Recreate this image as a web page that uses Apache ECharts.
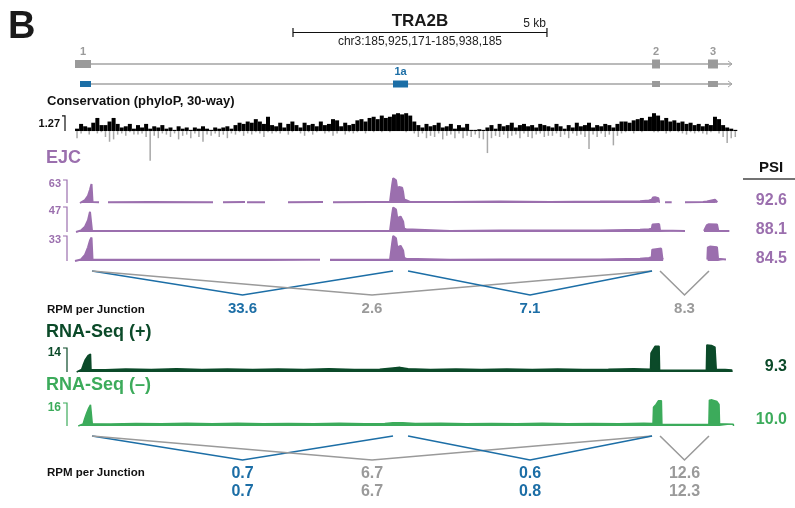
<!DOCTYPE html>
<html><head><meta charset="utf-8">
<script src="https://cdn.jsdelivr.net/npm/echarts@6/dist/echarts.min.js"></script>
<style>html,body{margin:0;padding:0;background:#fff}#c{width:795px;height:508px}</style>
</head><body><div id="c"></div>
<script>
// ---------------- DATA ----------------
const regionStart = 0, regionEnd = 13014;           // chr3:185,925,171-185,938,185 (bp offsets)
const regionLabel = 'chr3:185,925,171-185,938,185';
const geneName = 'TRA2B';
const scaleBarStart = 4292, scaleBarLength = 5000, scaleBarLabel = '5 kb';

const transcripts = [[0, 12936], [98, 12936]];
const gene1Exons = [[0, 315], [11361, 11518], [12463, 12659]];
const gene1Labels = ['1', '2', '3'];
const gene1aExons = [[98, 315], [6261, 6557], [11361, 11518], [12463, 12659]];
const gene1aLabels = ['', '1a', '', ''];

const consBin = 80;
const consScale = 1.27;
const consPos = [
 0.2,0.6,0.4,0.3,0.7,1.1,0.5, 0.5,0.8,1.1,0.6, 0.3,0.4,0.6,0.2, 0.5,0.3,0.6,0.2,0.4,0.3,0.5,
 0.2,0.3,0.1,0.4,0.2,0.3,0.1,0.3,0.2,0.4,0.2,0.1,0.3,0.2,0.3,0.4,0.2,
 0.5,0.7,0.6,0.8,0.7,1.0,0.8,0.6,1.2,0.5,
 0.4,0.7,0.3,0.6,0.8,0.5,0.3,0.7,0.5,0.6,0.4,0.8,0.5,0.6, 1.0,0.9, 0.4,0.7,0.5,0.6,
 0.9,1.0,0.8,1.1,1.2,1.0,1.3,1.1,1.2,1.4, 1.5,1.4,1.5,1.3, 0.8,
 0.5,0.3,0.6,0.4,0.5,0.7,0.3,0.4,0.6,0.2,0.5,0.3,0.6, 0.1,0.1,0.15,0.1,0.3,0.5,0.2,
 0.6,0.4,0.5,0.7,0.3,0.5,0.6,0.4,0.5,0.3,0.6,0.5,0.4,
 0.3,0.6,0.4,0.2,0.5,0.3,0.7,0.4,0.5,0.7,0.3,0.5,0.4,0.6,0.5,0.3,0.6,0.8,
 0.8,0.7,0.9,1.0,1.1,0.9,1.2,1.5, 1.3,0.9,1.1,0.8,0.9,0.7,0.8, 0.6,0.7,0.5,0.6, 0.4,0.6,0.5, 1.2,1.0, 0.5,0.3,0.2,0.1
];
const consNeg = [
 -0.6,-0.2,0,-0.3,0,-0.2,-0.1, -0.5,-0.9,-0.7,-0.3, -0.2,-0.4,-0.1,-0.3, -0.3,-0.2,-0.5,-2.5,-0.4,-0.6,-0.2,
 -0.3,-0.5,-0.2,-0.7,-0.4,-0.3,-0.6,-0.2,-0.5,-0.9,-0.3,-0.4,-0.2,-0.5,-0.3,-0.6,-0.2,
 -0.3,-0.1,-0.4,-0.2,-0.3,-0.1,-0.2,-0.5,-0.1,-0.2,
 -0.1,-0.2,0,-0.3,-0.1,0,-0.2,-0.4,-0.1,-0.3,-0.1,0,-0.2,-0.1, -0.4,-0.2, 0,-0.3,-0.1,-0.2,
 -0.1,0,-0.2,0,-0.1,0,-0.1,0,-0.1,0, 0,0,-0.1,0, -0.2,
 -0.5,-0.2,-0.6,-0.4,-0.5,-0.2,-0.7,-0.4,-0.3,-0.6,-0.2,-0.6,-0.4, -0.5,-0.3,-0.6,-0.7,-1.85,-0.6,-0.4,
 -0.5,-0.3,-0.6,-0.4,-0.3,-0.6,-0.2,-0.5,-0.6,-0.3,-0.2,-0.5,-0.4,
 -0.4,-0.2,-0.5,-0.3,-0.6,-0.2,-0.4,-0.3,-0.5,-1.5,-0.3,-0.5,-0.2,-0.5,-0.3,-1.2,-0.4,-0.2,
 -0.1,0,-0.2,0,-0.1,0,0,-0.1, -0.1,0,-0.2,-0.1,0,-0.1,-0.2, -0.3,-0.1,-0.2,-0.1, -0.2,-0.3,-0.1, 0,-0.2, -0.5,-1.0,-0.6,-0.5
];

const ejcScales = [63, 47, 33];
const ejc1Profile = [
 [98,0],[118,2],[197,8],[256,20],[295,36],[325,52],[335,52],[345,3],[473,2],[560,null],[650,2],[1477,3],[2717,2],[2815,null],
 [2914,2],[3347,3],[3367,null],[3387,2],[3741,2],[3960,null],[4194,2],[4883,3],[4980,null],[5080,2],[5809,3],[6202,3],
 [6235,4],[6245,50],[6265,68],[6290,70],[6320,62],[6345,38],[6365,36],[6380,44],[6410,44],[6440,42],[6460,30],[6480,10],[6520,8],[6557,4],
 [6596,3],[7384,3],[8368,4],[9353,3],[10337,4],[11125,5],[11300,7],[11355,9],[11380,15],[11420,16],[11485,13],[11500,3],[11515,3],
 [11560,null],[11617,2],[11748,2],[11880,null],[12010,2],[12364,3],[12443,4],[12455,8],[12600,9],[12625,8],[12646,2]
];
const ejc2Profile = [
 [20,0],[118,3],[197,10],[256,22],[295,38],[315,40],[325,40],[335,2],[1477,2],[2717,2],[3741,2],[4785,2],[5809,2],[6202,2],
 [6235,3],[6245,34],[6265,46],[6290,48],[6320,42],[6345,26],[6365,24],[6380,28],[6410,29],[6440,27],[6460,20],[6480,6],[6520,5],[6557,3],
 [7384,2],[8368,3],[9353,3],[10337,3],[11125,4],[11300,5],[11355,6],[11370,14],[11400,16],[11500,15],[11518,3],[12010,2],[12200,null],
 [12384,2],[12423,3],[12440,13],[12480,14.5],[12640,14],[12666,2],[12883,2]
];
const ejc3Profile = [
 [0,0],[118,2],[197,8],[256,18],[295,27],[325,31],[335,31],[345,1.5],[1477,1.5],[2717,1.5],[3741,1.5],[4824,1.5],[4920,null],
 [5021,1.5],[5809,1.5],[6202,1.5],[6235,2],[6245,24],[6265,33],[6290,34],[6320,30],[6345,18],[6365,17],[6380,20],[6410,20],[6440,19],
 [6460,14],[6480,4],[6520,3],[6557,2],[7384,1.5],[8368,2],[9353,2],[10337,2],[11125,3],[11300,4],[11355,5],[11365,15],[11400,17],
 [11540,16.5],[11565,3],[11584,2],[12000,null],[12450,2],[12460,18],[12500,19],[12640,18],[12660,3],[12817,2]
];
const psiValues = [92.6, 88.1, 84.5];

const junctions = [[335, 6261], [335, 11361], [6557, 11361], [11518, 12482]];
const ejcRPM = [33.6, 2.6, 7.1, 8.3];
const rnaPlusRPM = [0.7, 6.7, 0.6, 12.6];
const rnaMinusRPM = [0.7, 6.7, 0.8, 12.3];

const rnaScales = [14, 16];
const rnaPlusProfile = [
 [33,0],[130,1.5],[160,4],[200,7],[256,9.5],[290,10.5],[305,10.5],[315,1.5],[600,1.3],[1000,1.7],[1500,1.4],[2000,1.9],[2500,1.5],
 [3000,1.8],[3500,1.4],[4000,1.7],[4500,1.5],[5000,1.9],[5500,1.5],[6000,1.6],[6261,2.4],[6400,2.7],[6557,1.9],[7000,1.5],[7500,1.8],
 [8000,1.4],[8500,1.8],[9000,1.5],[9500,1.7],[10000,1.4],[10500,1.6],[11000,1.9],[11330,1.6],[11340,11],[11380,13],[11420,15],
 [11500,15],[11510,1.2],[12000,1.0],[12430,1.0],[12440,15.7],[12530,15.5],[12600,14.5],[12615,13.4],[12625,1.5],[12800,1.4],[12930,1.2],[12935,0]
];
const rnaMinusProfile = [
 [65,0],[160,1.5],[190,5],[230,9],[270,12.5],[305,14.7],[330,14.7],[340,1.5],[700,1.4],[1200,1.8],[1700,1.5],[2200,1.9],[2700,1.6],
 [3200,2.0],[3700,1.5],[4200,1.8],[4700,1.6],[5200,2.0],[5700,1.6],[6100,1.8],[6261,2.3],[6450,2.2],[6700,1.7],[7200,1.9],[7700,1.5],
 [8200,1.8],[8700,1.6],[9200,1.9],[9700,1.5],[10200,1.7],[10700,1.6],[11200,1.9],[11380,1.8],[11390,13],[11440,15],[11485,17.5],
 [11545,17.5],[11555,1.2],[12000,1.0],[12480,1.2],[12490,18],[12540,18.2],[12640,17],[12680,15],[12690,1.5],[12962,1.2],[12965,0]
];
const rnaPSI = [9.3, 10.0];

// ---------------- STYLE / LAYOUT ----------------
const FONT = '"Liberation Sans", Arial, Helvetica, sans-serif';
const PURPLE = '#9b6fae', BLUE = '#1c6ea6', GRAY = '#9a9a9a', LGRAY = '#a8a8a8';
const DGREEN = '#0b4a29', GREEN = '#3cab5b';
const LEFT = 75, WIDTH = 661;
const gridBoxes = [
  [54, 40],   // 0 gene models
  [112, 50],  // 1 conservation
  [180, 23],  // 2 EJC 1
  [207, 25],  // 3 EJC 2
  [236, 25],  // 4 EJC 3
  [271, 24],  // 5 EJC junctions
  [348, 24],  // 6 RNA +
  [403, 23],  // 7 RNA -
  [436, 24]   // 8 RNA junctions
];
const yRanges = [[0,2,true],[-2.6,1.6,false],[0,ejcScales[0],false],[0,ejcScales[1],false],[0,ejcScales[2],false],
  [0,1,true],[0,rnaScales[0],false],[0,rnaScales[1],false],[0,1,true]];

const grid = gridBoxes.map(g => ({left: LEFT, width: WIDTH, top: g[0], height: g[1]}));
const xAxis = gridBoxes.map((g, i) => ({type:'value', gridIndex:i, min:regionStart, max:regionEnd, show:false}));
xAxis.push({type:'value', gridIndex:1, min:regionStart, max:regionEnd, show:false});
const yAxis = yRanges.map((r, i) => ({type:'value', gridIndex:i, min:r[0], max:r[1], inverse:r[2], show:false}));
yAxis.push({type:'value', gridIndex:1, min:-2.6, max:1.6, show:false});

function font(size, weight) { return (weight || 'bold') + ' ' + size + 'px ' + FONT; }

// gene models
const exonItems = [];
gene1Exons.forEach((e, i) => exonItems.push({value:[e[0], e[1], 0.5], lab: gene1Labels[i], color: GRAY, h: i === 0 ? 8 : 9, lc: GRAY}));
gene1aExons.forEach((e, i) => exonItems.push({value:[e[0], e[1], 1.5], lab: gene1aLabels[i], color: i < 2 ? BLUE : GRAY, h: i === 1 ? 7 : 6, lc: BLUE}));

function renderTranscript(params, api) {
  const row = params.dataIndex + 0.5;
  const s = api.coord([api.value(0), row]);
  const e = api.coord([api.value(1), row]);
  return {type:'group', children:[
    {type:'line', shape:{x1:s[0], y1:s[1], x2:e[0], y2:e[1]}, style:{stroke:'#a3a3a3', lineWidth:1.3}},
    {type:'polyline', shape:{points:[[e[0]-4, e[1]-3], [e[0], e[1]], [e[0]-4, e[1]+3]]}, style:{stroke:'#a3a3a3', lineWidth:1, fill:null}}
  ]};
}
function renderExon(params, api) {
  const it = exonItems[params.dataIndex];
  const s = api.coord([api.value(0), api.value(2)]);
  const e = api.coord([api.value(1), api.value(2)]);
  const ch = [{type:'rect', shape:{x:s[0], y:s[1]-it.h/2, width:Math.max(e[0]-s[0], 1), height:it.h}, style:{fill:it.color}}];
  if (it.lab) ch.push({type:'text', x:(s[0]+e[0])/2, y:s[1]-12, style:{text:it.lab, font:font(11), fill:it.lc, align:'center', verticalAlign:'middle', textAlign:'center', textVerticalAlign:'middle'}});
  return {type:'group', children:ch};
}
function makeJunctionRenderer(rows, size) {
  return function (params, api) {
    const d = api.value(0), a = api.value(1);
    const p1 = api.coord([d, 0]), p2 = api.coord([(d + a) / 2, 1]), p3 = api.coord([a, 0]);
    const inc = (d === gene1aExons[1][1] || a === gene1aExons[1][0]);
    const col = inc ? BLUE : GRAY;
    const ch = [{type:'polyline', shape:{points:[p1, p2, p3]}, style:{stroke:col, lineWidth:1.6, fill:null}}];
    rows.forEach((arr, r) => ch.push({type:'text', x:p2[0], y:p2[1] + 13.5 + r * 18,
      style:{text:arr[params.dataIndex].toFixed(1), font:font(size), fill:col, align:'center', verticalAlign:'middle', textAlign:'center', textVerticalAlign:'middle'}}));
    return {type:'group', children:ch};
  };
}
function areaSeries(idx, data, color, lw) {
  return {type:'line', xAxisIndex:idx, yAxisIndex:idx, data:data, showSymbol:false, symbol:'none', connectNulls:false,
    clip:false, animation:false, lineStyle:{color:color, width:lw}, areaStyle:{color:color, opacity:1}, itemStyle:{color:color}};
}

const series = [
  {type:'custom', xAxisIndex:0, yAxisIndex:0, data:transcripts, renderItem:renderTranscript, animation:false},
  {type:'custom', xAxisIndex:0, yAxisIndex:0, data:exonItems.map(o => o.value), renderItem:renderExon, animation:false},
  {type:'bar', xAxisIndex:1, yAxisIndex:1, barWidth:4, data:consPos.map((v, i) => [i*consBin + consBin/2, v]), itemStyle:{color:'#000'}, animation:false},
  {type:'bar', xAxisIndex:9, yAxisIndex:9, barWidth:1.5, data:consNeg.map((v, i) => [i*consBin + consBin/2, v]), itemStyle:{color:LGRAY}, animation:false},
  areaSeries(2, ejc1Profile, PURPLE, 2),
  areaSeries(3, ejc2Profile, PURPLE, 2),
  areaSeries(4, ejc3Profile, PURPLE, 2),
  {type:'custom', xAxisIndex:5, yAxisIndex:5, data:junctions, renderItem:makeJunctionRenderer([ejcRPM], 15), animation:false},
  areaSeries(6, rnaPlusProfile, DGREEN, 1.5),
  areaSeries(7, rnaMinusProfile, GREEN, 1.5),
  {type:'custom', xAxisIndex:8, yAxisIndex:8, data:junctions, renderItem:makeJunctionRenderer([rnaPlusRPM, rnaMinusRPM], 16), animation:false}
];

const chart = echarts.init(document.getElementById('c'), null, {renderer:'canvas'});
chart.setOption({animation:false, grid:grid, xAxis:xAxis, yAxis:yAxis, series:series});

// ---------------- ANNOTATIONS ----------------
const px = v => chart.convertToPixel({xAxisIndex:0}, v);
const py = (i, v) => chart.convertToPixel({yAxisIndex:i}, v);
function txt(text, x, y, size, color, align, weight) {
  return {type:'text', x:x, y:y, silent:true, style:{text:text, font:font(size, weight), fill:color,
    align:align || 'left', verticalAlign:'middle', textAlign:align || 'left', textVerticalAlign:'middle'}};
}
function line(pts, color, w) { return {type:'polyline', silent:true, shape:{points:pts}, style:{stroke:color, lineWidth:w, fill:null}}; }
function bracket(axisIdx, top, x, tick, color) {
  const yt = py(axisIdx, top), yb = py(axisIdx, 0);
  return line([[x - tick, yt], [x, yt], [x, yb]], color, 1.2);
}

const g = [];
const sb0 = px(scaleBarStart), sb1 = px(scaleBarStart + scaleBarLength), sbMid = (sb0 + sb1) / 2;
g.push(txt('B', 8, 28, 38, '#1a1a1a'));
g.push(txt(geneName, sbMid, 21, 17, '#1a1a1a', 'center'));
g.push(line([[sb0, 32.5], [sb1, 32.5]], '#111', 1.2));
g.push(line([[sb0, 28], [sb0, 37]], '#111', 1.2));
g.push(line([[sb1, 28], [sb1, 37]], '#111', 1.2));
g.push(txt(scaleBarLabel, sb1 - 1, 23.5, 12, '#222', 'right', 'normal'));
g.push(txt(regionLabel, sbMid, 42, 12, '#222', 'center', 'normal'));

g.push(txt('Conservation (phyloP, 30-way)', 47, 101, 13, '#111'));
g.push(txt(consScale.toFixed(2), 60, 124, 11, '#111', 'right'));
g.push(bracket(1, consScale, 65, 3, '#111'));

g.push(txt('EJC', 46, 158.5, 18, PURPLE));
ejcScales.forEach((s, i) => {
  g.push(txt(String(s), 61, py(2 + i, s) + 4, 11, PURPLE, 'right'));
  g.push(bracket(2 + i, s, 67, 4, PURPLE));
  g.push(txt(psiValues[i].toFixed(1), 787, py(2 + i, 0) - 2.5, 16, PURPLE, 'right'));
});
g.push(txt('PSI', 771, 168, 15, '#111', 'center'));
g.push(line([[743, 179], [795, 179]], '#444', 1.5));
g.push(txt('RPM per Junction', 47, 310, 11.5, '#111'));

g.push(txt('RNA-Seq (+)', 46, 332, 18, DGREEN));
g.push(txt(String(rnaScales[0]), 61, py(6, rnaScales[0]) + 5, 12, DGREEN, 'right'));
g.push(bracket(6, rnaScales[0], 67, 4, DGREEN));
g.push(txt(rnaPSI[0].toFixed(1), 787, 367, 16, DGREEN, 'right'));

g.push(txt('RNA-Seq (\u2013)', 46, 385, 18, GREEN));
g.push(txt(String(rnaScales[1]), 61, py(7, rnaScales[1]) + 4.5, 12, GREEN, 'right'));
g.push(bracket(7, rnaScales[1], 67, 4, GREEN));
g.push(txt(rnaPSI[1].toFixed(1), 787, 420, 16, GREEN, 'right'));
g.push(txt('RPM per Junction', 47, 473, 11.5, '#111'));

chart.setOption({graphic:{elements:g}});
</script></body></html>
